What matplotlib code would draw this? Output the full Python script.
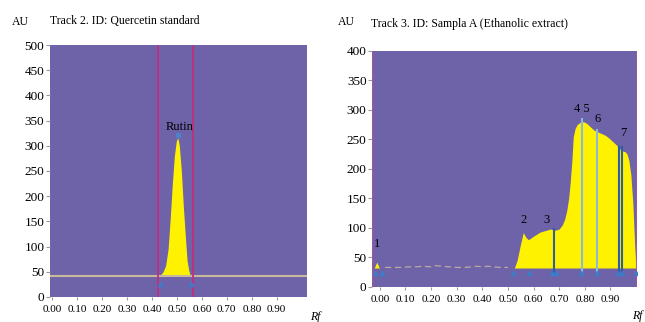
import matplotlib
matplotlib.use("Agg")
from matplotlib import pyplot as plt

# Track 2: quercetin standard (Rutin peak)
std_rf = [0.432, 0.445, 0.455, 0.465, 0.474, 0.482, 0.490, 0.498, 0.504, 0.510, 0.518, 0.526, 0.534, 0.541, 0.548, 0.554]
std_au = [42, 50, 62, 95, 160, 225, 280, 310, 316, 300, 250, 180, 120, 72, 52, 42]
std_base = 42
std_lines = [0.424, 0.564]
std_marks = [0.432, 0.556]

# Track 3: sample A (ethanolic extract)
smp_rf = [0.525, 0.536, 0.548, 0.560, 0.570, 0.580, 0.600, 0.626, 0.650, 0.665, 0.685, 0.700, 0.712, 0.722, 0.730,
          0.737, 0.743, 0.750, 0.755, 0.762, 0.770, 0.782, 0.795, 0.808, 0.820, 0.835, 0.848, 0.865, 0.880, 0.895,
          0.910, 0.925, 0.940, 0.950, 0.958, 0.965, 0.972, 0.980, 0.988, 0.995, 1.000]
smp_au = [32, 45, 70, 92, 84, 80, 86, 93, 96, 98, 96, 98, 105, 115, 130,
          150, 176, 215, 254, 268, 275, 279, 280, 277, 272, 266, 263, 260, 257, 252,
          246, 240, 232, 230, 229, 225, 215, 190, 140, 70, 32]
smp_base = 32
p1_rf = [-0.022, -0.016, -0.012, -0.008, -0.002]
p1_au = [32, 38, 42, 38, 32]
noise_rf = [0.02, 0.05, 0.08, 0.11, 0.14, 0.17, 0.20, 0.22, 0.24, 0.27, 0.30, 0.33, 0.36, 0.38, 0.40, 0.42, 0.44, 0.47, 0.50]
noise_au = [33, 33, 33, 34, 34, 35, 34, 36, 35, 34, 33, 33, 34, 35, 34, 35, 34, 33, 33]
smp_vlines = [0.680, 0.790, 0.848, 0.935, 0.944]
smp_vtops = [100, 286, 268, 238, 238]
smp_vcols = ["#2d5ea6", "#8cb8dc", "#8cb8dc", "#2d5ea6", "#2d5ea6"]
smp_marks = [-0.02, 0.008, 0.52, 0.583, 0.672, 0.688, 0.787, 0.848, 0.93, 0.947, 1.0]
peak_labels = ["1", "2", "3", "4 5", "6", "7"]
label_rf = [-0.01, 0.56, 0.652, 0.79, 0.852, 0.95]
label_au = [72, 113, 113, 302, 285, 260]

xticks = [0.0, 0.1, 0.2, 0.3, 0.4, 0.5, 0.6, 0.7, 0.8, 0.9]

purple = "#6e62a8"
yellow = "#fff200"
serif = ["Liberation Serif", "DejaVu Serif"]
plt.rcParams["font.family"] = serif


def style_axes(ax, ymax):
    ax.set_facecolor(purple)
    for s in ax.spines.values():
        s.set_visible(False)
    ax.set_xticks(xticks)
    ax.set_xticklabels([f"{t:.2f}" for t in xticks], fontsize=8)
    ax.set_yticks(list(range(0, ymax + 1, 50)))
    ax.tick_params(axis="y", labelsize=9.5, length=3, width=0.8, color="#999999", pad=1)
    ax.tick_params(axis="x", length=2, width=0.8, color="#999999", pad=4)


fig = plt.figure(figsize=(6.45, 3.22), dpi=100)

ax1 = fig.add_axes([0.0775, 0.078, 0.398, 0.782])
style_axes(ax1, 500)
ax1.set_xlim(-0.008, 1.02)
ax1.set_ylim(0, 500)
ax1.axhline(std_base, color="#c9b99c", linewidth=1.5)
ax1.fill_between(std_rf, std_base, std_au, color=yellow, linewidth=0)
for x in std_lines:
    ax1.axvline(x, color="#c0307c", linewidth=1.3)
ax1.plot(std_marks, [26, 26], linestyle="", marker="^", markersize=3, color="#3d7cc9")
ax1.plot([0.504], [322], linestyle="", marker="s", markersize=2.5, color="#4f80c8")
ax1.text(0.512, 338, "Rutin", fontsize=9, ha="center", va="center")
fig.text(12 / 645, 1 - 22 / 322, "AU", fontsize=8.5, va="center")
fig.text(50 / 645, 1 - 21 / 322, "Track 2. ID: Quercetin standard", fontsize=8.5, va="center")
fig.text(310 / 645, 1 - 317 / 322, "Rf", fontsize=8.5, style="italic", va="center")

ax2 = fig.add_axes([0.577, 0.109, 0.411, 0.733])
style_axes(ax2, 400)
ax2.set_xlim(-0.03, 1.005)
ax2.set_ylim(0, 400)
ax2.fill_between(smp_rf, smp_base, smp_au, color=yellow, linewidth=0)
ax2.fill_between(p1_rf, smp_base, p1_au, color=yellow, linewidth=0)
ax2.plot(noise_rf, noise_au, color="#cdbf9c", linewidth=0.9, linestyle=(0, (5, 3)), alpha=0.8)
ax2.axvline(-0.03, color="#b0509a", linewidth=1, alpha=0.7)
ax2.axvline(1.005, color="#b0509a", linewidth=1.5, alpha=0.7)
ax2.vlines(smp_vlines, 24, smp_vtops, colors=smp_vcols, linewidth=1.5)
ax2.plot(smp_marks, [24] * len(smp_marks), linestyle="", marker="^", markersize=3, color="#3d7cc9")
for lab, x, y in zip(peak_labels, label_rf, label_au):
    ax2.text(x, y, lab, fontsize=9, ha="center", va="center")
fig.text(338 / 645, 1 - 22 / 322, "AU", fontsize=8.5, va="center")
fig.text(371 / 645, 1 - 24 / 322, "Track 3. ID: Sampla A (Ethanolic extract)", fontsize=8.5, va="center")
fig.text(632 / 645, 1 - 316 / 322, "Rf", fontsize=8.5, style="italic", va="center")

fig.savefig("out.png", dpi=100)
